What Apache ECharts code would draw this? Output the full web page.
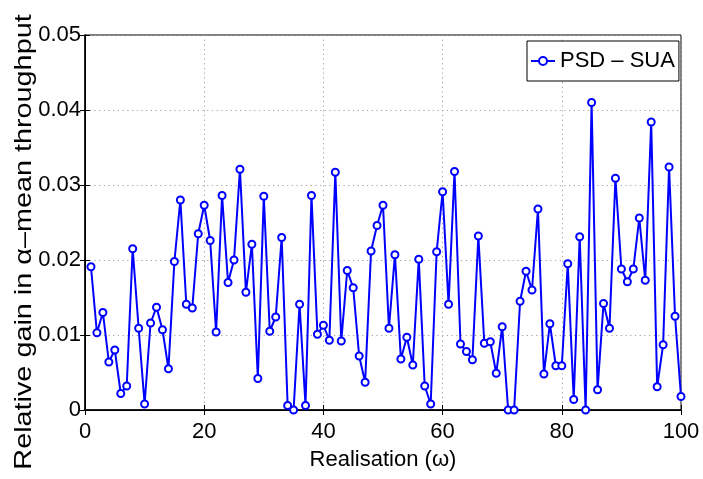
<!DOCTYPE html>
<html>
<head>
<meta charset="utf-8">
<script src="https://cdn.jsdelivr.net/npm/echarts@6/dist/echarts.min.js"></script>
<style>
  html, body { margin: 0; padding: 0; background: #fff; }
  #chart { width: 703px; height: 479px; }
</style>
</head>
<body>
<div id="chart"></div>
<script>
// Realisation index (ω) and the relative gain of PSD over SUA for each one
const realisations = [
  1, 2, 3, 4, 5, 6, 7, 8, 9, 10,
  11, 12, 13, 14, 15, 16, 17, 18, 19, 20,
  21, 22, 23, 24, 25, 26, 27, 28, 29, 30,
  31, 32, 33, 34, 35, 36, 37, 38, 39, 40,
  41, 42, 43, 44, 45, 46, 47, 48, 49, 50,
  51, 52, 53, 54, 55, 56, 57, 58, 59, 60,
  61, 62, 63, 64, 65, 66, 67, 68, 69, 70,
  71, 72, 73, 74, 75, 76, 77, 78, 79, 80,
  81, 82, 83, 84, 85, 86, 87, 88, 89, 90,
  91, 92, 93, 94, 95, 96, 97, 98, 99, 100
];
const gainPsdSua = [
  0.0191, 0.0103, 0.0130, 0.0064, 0.0080, 0.0022, 0.0032, 0.0215, 0.0109, 0.0008,
  0.0116, 0.0137, 0.0107, 0.0055, 0.0198, 0.0280, 0.0141, 0.0136, 0.0235, 0.0273,
  0.0226, 0.0104, 0.0286, 0.0170, 0.0200, 0.0321, 0.0157, 0.0221, 0.0042, 0.0285,
  0.0105, 0.0124, 0.0230, 0.0006, 0.0000, 0.0141, 0.0006, 0.0286, 0.0101, 0.0113,
  0.0093, 0.0317, 0.0092, 0.0186, 0.0163, 0.0072, 0.0037, 0.0212, 0.0246, 0.0273,
  0.0109, 0.0207, 0.0068, 0.0097, 0.0060, 0.0201, 0.0032, 0.0008, 0.0211, 0.0291,
  0.0141, 0.0318, 0.0088, 0.0078, 0.0067, 0.0232, 0.0089, 0.0091, 0.0049, 0.0111,
  0.0000, 0.0000, 0.0145, 0.0185, 0.0160, 0.0268, 0.0048, 0.0115, 0.0059, 0.0059,
  0.0195, 0.0014, 0.0231, 0.0000, 0.0410, 0.0027, 0.0142, 0.0109, 0.0309, 0.0188,
  0.0171, 0.0188, 0.0256, 0.0173, 0.0384, 0.0031, 0.0087, 0.0324, 0.0125, 0.0018
];
const seriesName = 'PSD \u2013 SUA';
const xTitle = 'Realisation (\u03c9)';
const yTitle = 'Relative gain in \u03b1\u2013mean throughput';

const FONT = '"Liberation Sans", Arial, Helvetica, sans-serif';

const chart = echarts.init(document.getElementById('chart'), null, { renderer: 'canvas' });

const gridDots = { show: true, lineStyle: { color: '#a0a0a0', width: 1, type: [1.2, 3.5] } };
const inTicks = { show: true, inside: true, length: 5, lineStyle: { color: '#000', width: 1 } };

chart.setOption({
  backgroundColor: '#fff',
  animation: false,
  grid: {
    left: 85, right: 22, top: 35, bottom: 69,
    show: true, borderColor: '#000', borderWidth: 1, backgroundColor: 'transparent'
  },
  legend: {
    left: 527, top: 41,
    padding: [9, 4, 9, 3],
    itemWidth: 24, itemHeight: 10,
    backgroundColor: '#fff',
    borderColor: '#000', borderWidth: 1, borderRadius: 0,
    textStyle: { fontFamily: FONT, fontSize: 22, color: '#000' },
    data: [seriesName]
  },
  xAxis: [
    {
      type: 'value', min: 0, max: 100, interval: 20,
      name: xTitle, nameLocation: 'middle', nameGap: 39,
      nameTextStyle: { fontFamily: FONT, fontSize: 22, color: '#000' },
      axisLine: { show: true, onZero: false, lineStyle: { color: '#000', width: 1.5 } },
      axisTick: inTicks,
      axisLabel: { fontFamily: FONT, fontSize: 22, color: '#000', margin: 11 },
      splitLine: gridDots
    },
    {
      type: 'value', min: 0, max: 100, interval: 20, position: 'top',
      axisLine: { show: true, lineStyle: { color: '#000', width: 1 } },
      axisTick: inTicks, axisLabel: { show: false }, splitLine: { show: false }
    }
  ],
  yAxis: [
    {
      type: 'value', min: 0, max: 0.05, interval: 0.01,
      axisLine: { show: true, onZero: false, lineStyle: { color: '#000', width: 1.5 } },
      axisTick: inTicks,
      axisLabel: { fontFamily: FONT, fontSize: 22, color: '#000', margin: 4 },
      splitLine: gridDots
    },
    {
      type: 'value', min: 0, max: 0.05, interval: 0.01, position: 'right',
      axisLine: { show: true, lineStyle: { color: '#000', width: 1 } },
      axisTick: inTicks, axisLabel: { show: false }, splitLine: { show: false }
    }
  ],
  graphic: [
    {
      type: 'text', x: 24, y: 242, rotation: Math.PI / 2, scaleX: 1.2,
      style: {
        text: yTitle, font: '24px ' + FONT, fill: '#000',
        align: 'center', verticalAlign: 'middle'
      }
    }
  ],
  series: [
    {
      name: seriesName,
      type: 'line',
      xAxisIndex: 0, yAxisIndex: 0,
      data: realisations.map((r, i) => [r, gainPsdSua[i]]),
      clip: false,
      symbol: 'emptyCircle',
      symbolSize: 7,
      showAllSymbol: true,
      color: '#0000ff',
      lineStyle: { color: '#0000ff', width: 2 },
      itemStyle: { color: '#0000ff', borderColor: '#0000ff', borderWidth: 1.5 }
    }
  ]
});
</script>
</body>
</html>
